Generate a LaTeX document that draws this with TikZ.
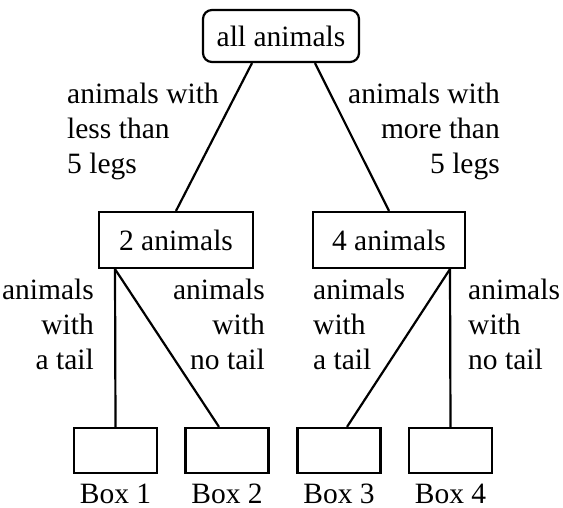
\documentclass[tikz,border=0pt]{standalone}
\usepackage{fontspec}
\setmainfont{Liberation Serif}
\newfontfamily\tmsfont{Liberation Serif}
\begin{document}
\begin{tikzpicture}[x=1pt,y=-1pt,
  every node/.style={font=\tmsfont\fontsize{29.5}{35}\selectfont},
  conn/.style={line width=2.2pt},
  box/.style={draw,line width=2.2pt,inner sep=0pt},
  lab/.style={inner sep=0pt},
  blab/.style={inner sep=0pt,anchor=base}]
\useasboundingbox (0,0) rectangle (563,508);
\node[box,rounded corners=9pt,minimum width=156pt,minimum height=52pt] (root) at (281,36) {all animals};
\node[box,minimum width=154pt,minimum height=56pt] (n2) at (176,240) {2 animals};
\node[box,minimum width=152pt,minimum height=56pt] (n4) at (389,240) {4 animals};
\node[box,minimum width=83pt,minimum height=45pt] (b1) at (115.5,450.5) {};
\node[box,minimum width=83pt,minimum height=45pt] (b2) at (227,450.5) {};
\node[box,minimum width=83pt,minimum height=45pt] (b3) at (339,450.5) {};
\node[box,minimum width=83pt,minimum height=45pt] (b4) at (450.5,450.5) {};
\node[blab] (t1) at (115.5,503) {Box 1};
\node[blab] (t2) at (227,503) {Box 2};
\node[blab] (t3) at (339,503) {Box 3};
\node[blab] (t4) at (450.5,503) {Box 4};
\draw[conn] ([xshift=-29pt]root.south) -- (n2.north);
\draw[conn] ([xshift=34pt]root.south) -- (n4.north);
\draw[conn] ([xshift=-61pt]n2.south) -- (b1.north);
\draw[conn] ([xshift=-61pt]n2.south) -- ([xshift=-8pt]b2.north);
\draw[conn] ([xshift=61pt]n4.south) -- ([xshift=8pt]b3.north);
\draw[conn] ([xshift=61pt]n4.south) -- (b4.north);
\node[lab,align=left,anchor=north west] (l1) at (67,83) {animals with\\less than\\5 legs};
\node[lab,align=right,anchor=north east] (l2) at (500,83) {animals with\\more than\\5 legs};
\node[lab,align=right,anchor=north east] (l3) at (94,279) {animals\\with\\a tail};
\node[lab,align=right,anchor=north east] (l4) at (265,279) {animals\\with\\no tail};
\node[lab,align=left,anchor=north west] (l5) at (313,279) {animals\\with\\a tail};
\node[lab,align=left,anchor=north west] (l6) at (468,279) {animals\\with\\no tail};
\end{tikzpicture}
\end{document}
